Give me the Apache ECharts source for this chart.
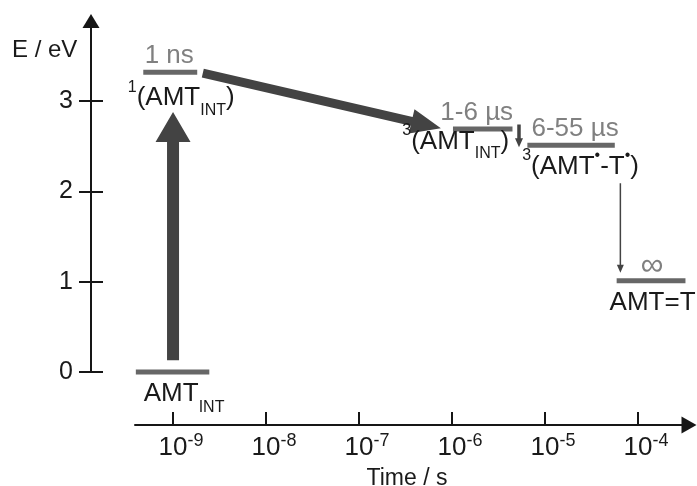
<!DOCTYPE html>
<html>
<head>
<meta charset="utf-8">
<script src="https://cdn.jsdelivr.net/npm/echarts@6/dist/echarts.min.js"></script>
<style>
html,body{margin:0;padding:0;background:#fff}
#chart{width:697px;height:486px}
</style>
</head>
<body>
<div id="chart"></div>
<script>
// x = log10(time / s), y = energy in eV
var levelStart = [-9.40, -9.32, -5.99, -5.19, -4.23];
var levelEnd = [-8.61, -8.74, -5.35, -4.25, -3.49];
var levelEnergy = [0, 3.32, 2.69, 2.51, 1.01];
var lifetimes = ['', '1 ns', '1-6 µs', '6-55 µs', '∞'];
var states = [
	'{n|AMT}{sub|INT}',
	'{sup|1}{n|(AMT}{sub|INT}{n|)}',
	'{sup|3}{n|(AMT}{sub|INT}{n|)}',
	'{sup|3}{n|(AMT}{sup|•}{n|-T}{sup|•}{n|)}',
	'{n|AMT=T}'
];
// arrows: start point -> tip
var arrowFrom = [[-9.0, 0.13], [-8.68, 3.31], [-5.28, 2.74], [-4.19, 2.09]];
var arrowTo = [[-9.0, 2.88], [-6.12, 2.70], [-5.28, 2.49], [-4.19, 1.10]];
var timeTicks = [-9, -8, -7, -6, -5, -4];
var energyTicks = [0, 1, 2, 3];

// layout (pixels), kept apart from the data
var stateShift = [[11.5, 22], [11, 26], [-27, 13], [9.5, 21], [1.5, 22]];
var lifeShift = [[0, 0], [-1, -16], [-6, -16], [4, -17], [1, -15]];
var arrowSize = [[12, 30, 35], [9, 30, 25], [3.5, 9, 8], [1.5, 8, 7]]; // shaft, head length, head width

var FONT = '"Liberation Sans", Arial, sans-serif';
var AXIS = '#161616';

function renderLevel(params, api) {
	var i = params.dataIndex;
	var p0 = api.coord([api.value(0), api.value(2)]);
	var p1 = api.coord([api.value(1), api.value(2)]);
	var cx = (p0[0] + p1[0]) / 2;
	var kids = [{
		type: 'line',
		shape: {x1: p0[0], y1: p0[1], x2: p1[0], y2: p1[1]},
		style: {stroke: '#676767', lineWidth: 5}
	}];
	if (lifetimes[i]) {
		kids.push({
			type: 'text',
			x: cx + lifeShift[i][0],
			y: p0[1] + lifeShift[i][1],
			style: {
				text: lifetimes[i], fill: '#808080',
				fontSize: i == 4 ? 32 : 26, fontFamily: FONT,
				align: 'center', verticalAlign: 'middle'
			}
		});
	}
	kids.push({
		type: 'text',
		x: cx + stateShift[i][0],
		y: p0[1] + stateShift[i][1],
		style: {
			text: states[i], fill: '#1a1a1a', fontSize: 26, fontFamily: FONT,
			align: 'center', verticalAlign: 'middle',
			rich: {
				n: {fontSize: 26, fontFamily: FONT, fill: '#1a1a1a'},
				sub: {fontSize: 16, fontFamily: FONT, fill: '#1a1a1a', padding: [i == 0 ? 28 : 24, 0, 0, 0]},
				sup: {fontSize: 16, fontFamily: FONT, fill: '#1a1a1a', padding: [0, 0, 22, 0]}
			}
		}
	});
	return {type: 'group', children: kids};
}

function renderArrow(params, api) {
	var i = params.dataIndex;
	var a = api.coord([api.value(0), api.value(1)]);
	var b = api.coord([api.value(2), api.value(3)]);
	var dx = b[0] - a[0], dy = b[1] - a[1];
	var len = Math.sqrt(dx * dx + dy * dy);
	var ux = dx / len, uy = dy / len, nx = -uy, ny = ux;
	var s = arrowSize[i], w = s[0] / 2, hl = s[1], hw = s[2] / 2;
	var bx = b[0] - ux * hl, by = b[1] - uy * hl;
	var pts = [
		[a[0] + nx * w, a[1] + ny * w],
		[bx + nx * w, by + ny * w],
		[bx + nx * hw, by + ny * hw],
		[b[0], b[1]],
		[bx - nx * hw, by - ny * hw],
		[bx - nx * w, by - ny * w],
		[a[0] - nx * w, a[1] - ny * w]
	];
	return {type: 'polygon', shape: {points: pts}, style: {fill: '#434343'}};
}

var levelData = levelStart.map(function (s, i) {
	return [s, levelEnd[i], levelEnergy[i]];
});
var arrowData = arrowFrom.map(function (p, i) {
	return [p[0], p[1], arrowTo[i][0], arrowTo[i][1]];
});

var chart = echarts.init(document.getElementById('chart'));
var option = {
	animation: false,
	backgroundColor: '#fff',
	title: {
		text: 'E / eV', left: 12, top: 38, padding: 0,
		textStyle: {fontSize: 24, fontWeight: 'normal', color: '#1a1a1a', fontFamily: FONT}
	},
	grid: {left: 135, right: 8, top: 21, bottom: 114, containLabel: false, outerBoundsMode: 'none'},
	xAxis: {
		type: 'value', min: -9.409, max: -3.452, offset: 53,
		axisLine: {show: true, onZero: false, symbol: ['none', 'triangle'], symbolSize: [17, 15], lineStyle: {color: AXIS, width: 2}},
		axisTick: {show: true, inside: true, length: 13, customValues: timeTicks, lineStyle: {color: AXIS, width: 2}},
		axisLabel: {
			customValues: timeTicks, margin: 7,
			// hidden copy of the exponent on the left keeps "10" centred on the tick
			formatter: function (v) { return '{h|' + v + '}{b|10}{s|' + v + '}'; },
			rich: {
				h: {fontSize: 18, fontFamily: FONT, color: 'rgba(0,0,0,0)', padding: [0, 0, 14, 0]},
				b: {fontSize: 26, fontFamily: FONT, color: '#1a1a1a'},
				s: {fontSize: 18, fontFamily: FONT, color: '#1a1a1a', padding: [0, 0, 14, 0]}
			}
		},
		splitLine: {show: false},
		name: 'Time / s', nameLocation: 'middle', nameGap: 42, nameMoveOverlap: false,
		nameTextStyle: {fontSize: 23, color: '#1a1a1a', fontFamily: FONT, verticalAlign: 'top', padding: [0, 10, 0, 0]}
	},
	yAxis: [{
		type: 'value', min: 0, max: 3.887, offset: 44, position: 'left',
		axisLine: {show: true, onZero: false, symbol: ['none', 'triangle'], symbolSize: [17, 14], lineStyle: {color: AXIS, width: 2}},
		axisTick: {show: true, length: 12, customValues: energyTicks, lineStyle: {color: AXIS, width: 2}},
		axisLabel: {customValues: energyTicks, margin: 18, fontSize: 25, color: '#1a1a1a', fontFamily: FONT},
		splitLine: {show: false}
	}, {
		type: 'value', min: 0, max: 3.887, offset: 44, position: 'left',
		axisLine: {show: false, onZero: false},
		axisTick: {show: true, inside: true, length: 12, customValues: energyTicks, lineStyle: {color: AXIS, width: 2}},
		axisLabel: {show: false},
		splitLine: {show: false}
	}],
	series: [{
		type: 'custom',
		clip: false,
		renderItem: renderArrow,
		encode: {x: [0, 2], y: [1, 3]},
		data: arrowData
	}, {
		type: 'custom',
		clip: false,
		renderItem: renderLevel,
		encode: {x: [0, 1], y: 2},
		data: levelData
	}]
};
chart.setOption(option);
</script>
</body>
</html>
